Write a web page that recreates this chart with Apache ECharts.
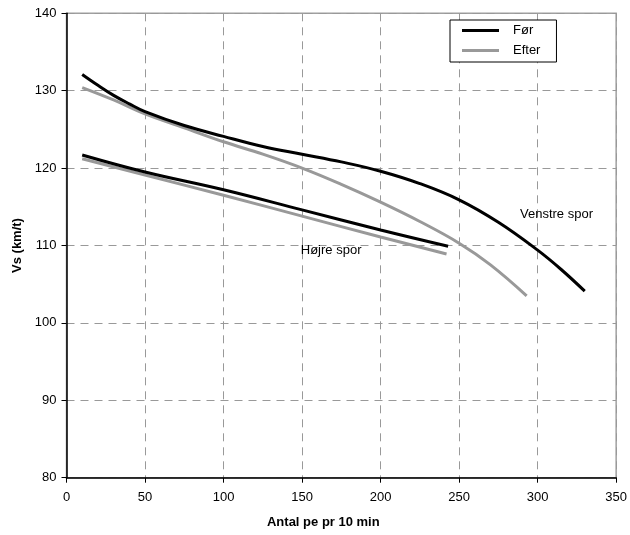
<!DOCTYPE html>
<html><head><meta charset="utf-8">
<script src="https://cdn.jsdelivr.net/npm/echarts@6/dist/echarts.min.js"></script>
<style>html,body{margin:0;padding:0;background:#fff}#c{width:630px;height:535px}</style>
</head><body><div id="c"></div>
<script>
var venstreForX = [10, 20, 30, 40, 50, 75, 100, 125, 150, 175, 200, 225, 250, 275, 300, 315, 330];
var venstreForY = [132.1, 130.7, 129.4, 128.3, 127.3, 125.5, 124.1, 122.8, 121.8, 120.8, 119.6, 118.0, 115.9, 113.0, 109.4, 106.9, 104.1];
var venstreEfterX = [10, 30, 50, 75, 100, 125, 150, 175, 200, 225, 250, 270, 293];
var venstreEfterY = [130.4, 128.8, 127.0, 125.2, 123.4, 121.8, 120.0, 117.9, 115.6, 113.1, 110.3, 107.5, 103.5];
var hojreForX = [10, 50, 100, 150, 200, 243];
var hojreForY = [121.7, 119.5, 117.2, 114.6, 112.0, 109.9];
var hojreEfterX = [10, 50, 100, 150, 200, 242];
var hojreEfterY = [121.2, 119.1, 116.5, 113.8, 111.1, 108.9];
var xTicks = [0, 50, 100, 150, 200, 250, 300, 350];
var yTicks = [80, 90, 100, 110, 120, 130, 140];
var labelVenstre = {text: 'Venstre spor', x: 312, y: 114.0};
var labelHojre = {text: 'Højre spor', x: 168.5, y: 109.4};

function pairs(xs, ys) { return xs.map(function (x, i) { return [x, ys[i]]; }); }
var font = 'Liberation Sans, Arial, sans-serif';
var chart = echarts.init(document.getElementById('c'));
function lineSeries(name, xs, ys, color, lbl) {
  var s = {
    type: 'line', name: name, data: pairs(xs, ys), smooth: 0.4, showSymbol: false, symbol: 'none',
    lineStyle: {color: color, width: 3}, itemStyle: {color: color}, animation: false, z: color === '#000' ? 4 : 3
  };
  if (lbl) {
    s.markPoint = {
      symbol: 'circle', symbolSize: 0, silent: true,
      data: [{coord: [lbl.x, lbl.y], value: lbl.text,
        label: {show: true, position: 'inside', formatter: lbl.text, color: '#000', fontSize: 13, fontFamily: font}}]
    };
  }
  return s;
}
chart.setOption({
  animation: false,
  backgroundColor: '#fff',
  grid: {left: 66.5, right: 12.7, top: 13.3, bottom: 57.3, show: true, borderColor: '#a0a0a0', borderWidth: 1.5},
  legend: {
    left: 450, top: 20, orient: 'vertical', icon: 'rect', itemWidth: 37, itemHeight: 3, itemGap: 7,
    padding: [4, 16, 5, 12], borderColor: '#000', borderWidth: 1, borderRadius: 0, backgroundColor: '#fff',
    textStyle: {fontSize: 13, fontFamily: font, color: '#000', padding: [0, 0, 0, 9]},
    data: ['Før', 'Efter']
  },
  xAxis: {
    type: 'value', min: xTicks[0], max: xTicks[xTicks.length - 1], interval: 50,
    name: 'Antal pe pr 10 min', nameLocation: 'middle', nameGap: 38,
    nameTextStyle: {fontWeight: 'bold', fontSize: 13, fontFamily: font, color: '#000', padding: [0, 36, 0, 0]},
    axisLine: {show: true, lineStyle: {color: '#000', width: 1.5}},
    axisTick: {show: true, length: 5, lineStyle: {color: '#000'}},
    axisLabel: {fontSize: 13, fontFamily: font, color: '#000', margin: 13},
    splitLine: {show: true, lineStyle: {color: '#999', type: [8, 6], width: 1}}
  },
  yAxis: {
    type: 'value', min: yTicks[0], max: yTicks[yTicks.length - 1], interval: 10,
    name: 'Vs (km/t)', nameLocation: 'middle', nameGap: 43,
    nameTextStyle: {fontWeight: 'bold', fontSize: 13, fontFamily: font, color: '#000'},
    axisLine: {show: true, lineStyle: {color: '#000', width: 1.5}},
    axisTick: {show: true, length: 5, lineStyle: {color: '#000'}},
    axisLabel: {fontSize: 13, fontFamily: font, color: '#000', margin: 10},
    splitLine: {show: true, lineStyle: {color: '#999', type: [8, 6], width: 1}}
  },
  series: [
    lineSeries('Før', venstreForX, venstreForY, '#000', labelVenstre),
    lineSeries('Efter', venstreEfterX, venstreEfterY, '#999'),
    lineSeries('Før', hojreForX, hojreForY, '#000', labelHojre),
    lineSeries('Efter', hojreEfterX, hojreEfterY, '#999')
  ]
});
</script></body></html>
